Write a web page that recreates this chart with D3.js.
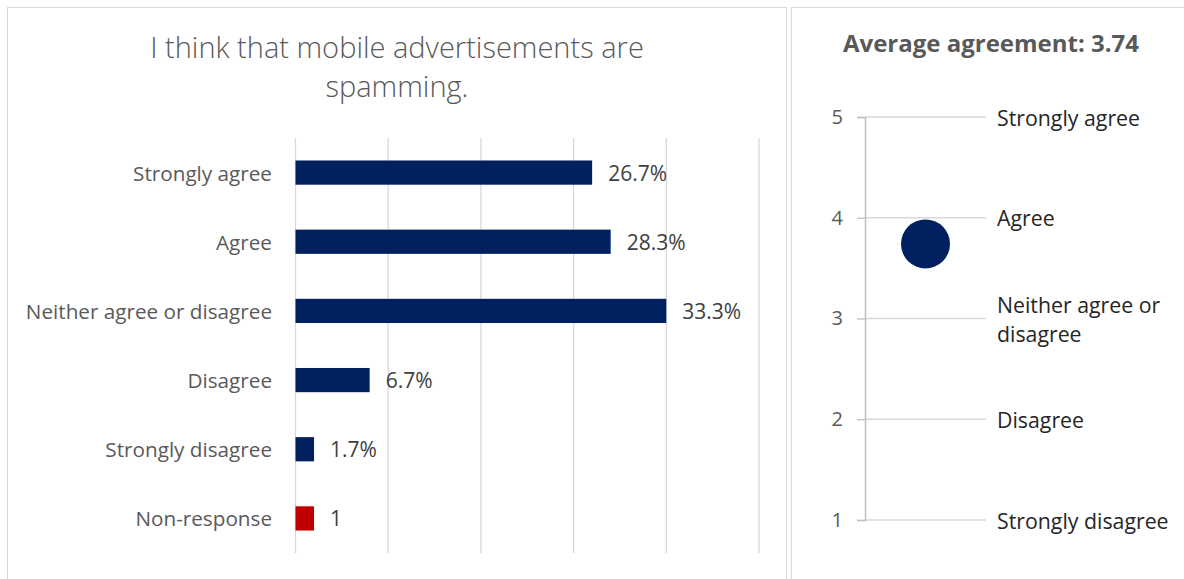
<!DOCTYPE html>
<html>
<head>
<meta charset="utf-8">
<script src="https://cdn.jsdelivr.net/npm/d3@7"></script>
<style>
  html, body { margin: 0; padding: 0; background: #fff; }
  svg { display: block; }
  text { font-family: "Open Sans", "Liberation Sans", sans-serif; }
</style>
</head>
<body>
<svg id="chart" width="1184" height="579"></svg>
<script>
// ---- Data ----
const categories = ["Strongly agree", "Agree", "Neither agree or disagree", "Disagree", "Strongly disagree", "Non-response"];
const counts = [16, 17, 20, 4, 1, 1];
const valueLabels = ["26.7%", "28.3%", "33.3%", "6.7%", "1.7%", "1"];
const barColors = ["#002060", "#002060", "#002060", "#002060", "#002060", "#C00000"];
const xTicks = [0, 5, 10, 15, 20, 25];
const titleLines = ["I think that mobile advertisements are", "spamming."];

const scaleValues = [5, 4, 3, 2, 1];
const scaleLabels = [["Strongly agree"], ["Agree"], ["Neither agree or", "disagree"], ["Disagree"], ["Strongly disagree"]];
const averageAgreement = 3.74;

const svg = d3.select("#chart");

// ---- Panels ----
svg.append("rect").attr("x", 7.5).attr("y", 7.5).attr("width", 779).attr("height", 640)
  .attr("fill", "#fff").attr("stroke", "#d9d9d9").attr("stroke-width", 1);
svg.append("rect").attr("x", 791.5).attr("y", 7.5).attr("width", 460).attr("height", 640)
  .attr("fill", "#fff").attr("stroke", "#d9d9d9").attr("stroke-width", 1);

// ---- Left chart ----
const x = d3.scaleLinear().domain([0, 25]).range([295.5, 759]);
const y = d3.scaleBand().domain(categories).range([138, 553]).paddingInner(0.65).paddingOuter(0.325);

svg.append("g").selectAll("line").data(xTicks).join("line")
  .attr("x1", d => x(d)).attr("x2", d => x(d))
  .attr("y1", 138).attr("y2", 553)
  .attr("stroke", "#d9d9d9").attr("stroke-width", 1.3);

svg.append("g").selectAll("text").data(titleLines).join("text")
  .attr("x", 397).attr("y", (d, i) => 58 + i * 39)
  .attr("text-anchor", "middle").attr("font-size", 29).attr("font-weight", 300)
  .attr("fill", "#595959").text(d => d);

svg.append("g").selectAll("rect").data(categories).join("rect")
  .attr("x", x(0)).attr("y", d => y(d))
  .attr("width", (d, i) => x(counts[i]) - x(0)).attr("height", y.bandwidth())
  .attr("fill", (d, i) => barColors[i]);

svg.append("g").selectAll("text").data(categories).join("text")
  .attr("x", 272).attr("y", d => y(d) + y.bandwidth() / 2)
  .attr("text-anchor", "end").attr("dominant-baseline", "central")
  .attr("font-size", 20.7).attr("fill", "#595959").text(d => d);

svg.append("g").selectAll("text").data(categories).join("text")
  .attr("x", (d, i) => x(counts[i]) + 16).attr("y", d => y(d) + y.bandwidth() / 2)
  .attr("dominant-baseline", "central")
  .attr("font-size", 21).attr("fill", "#404040").text((d, i) => valueLabels[i]);

// ---- Right chart ----
const ry = d3.scaleLinear().domain([1, 5]).range([520, 117]);
const rx = d3.scaleLinear().domain([0, 1]).range([865, 986]);

svg.append("text").attr("x", 991).attr("y", 52).attr("text-anchor", "middle")
  .attr("font-size", 24).attr("font-weight", 700).attr("fill", "#595959")
  .text("Average agreement: " + averageAgreement.toFixed(2));

svg.append("g").selectAll("line").data(scaleValues).join("line")
  .attr("x1", rx(0)).attr("x2", rx(1)).attr("y1", d => ry(d)).attr("y2", d => ry(d))
  .attr("stroke", "#d9d9d9").attr("stroke-width", 1.3);

const axis = d3.axisLeft(ry).tickValues(scaleValues).tickSize(8).tickPadding(14).tickFormat(d3.format("d"));
const ag = svg.append("g").attr("transform", `translate(${rx(0)},0)`).call(axis);
ag.select(".domain").attr("stroke", "#bfbfbf").attr("stroke-width", 1.5);
ag.selectAll(".tick line").attr("stroke", "#bfbfbf").attr("stroke-width", 1.3);
ag.selectAll(".tick text").attr("font-size", 20).attr("fill", "#595959")
  .attr("font-family", "'Open Sans', sans-serif");

svg.append("circle").attr("cx", rx(0.5)).attr("cy", ry(averageAgreement)).attr("r", 24.5)
  .attr("fill", "#002060");

const lg = svg.append("g").selectAll("text").data(scaleValues).join("text")
  .attr("x", 997).attr("font-size", 21.3).attr("fill", "#262626");
lg.each(function(d, i) {
  const lines = scaleLabels[i];
  const t = d3.select(this);
  const lh = 29;
  const start = ry(d) - (lines.length - 1) * lh / 2;
  lines.forEach((ln, j) => {
    t.append("tspan").attr("x", 997).attr("y", start + j * lh)
      .attr("dominant-baseline", "central").text(ln);
  });
});
</script>
</body>
</html>
